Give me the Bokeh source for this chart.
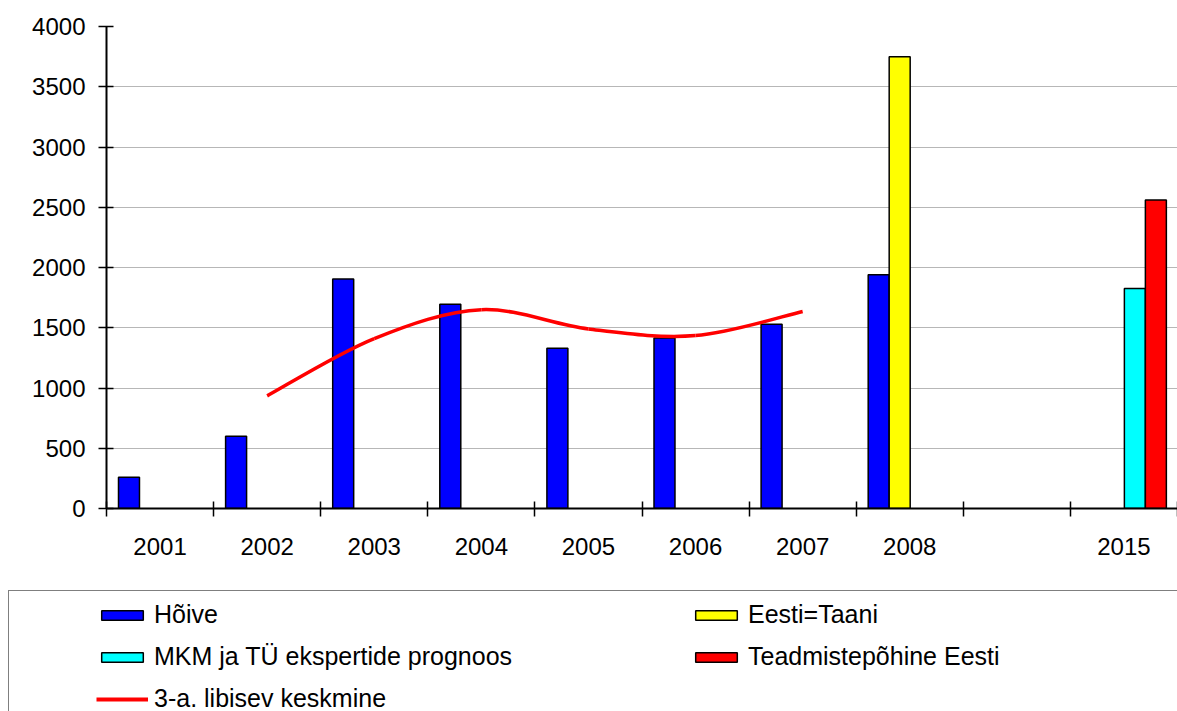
from bokeh.plotting import figure
from bokeh.layouts import column
from bokeh.models import Range1d, FixedTicker, ColumnDataSource, Legend, LegendItem
from bokeh.transform import dodge
from bokeh.embed import file_html
from bokeh.resources import INLINE

# ---- data ----
categories = ["2001", "2002", "2003", "2004", "2005", "2006", "2007", "2008", "", "2015"]
hoive = [260, 600, 1905, 1695, 1330, 1415, 1530, 1940, None, None]
eesti_taani = [None, None, None, None, None, None, None, 3750, None, None]
mkm_tu = [None, None, None, None, None, None, None, None, None, 1825]
teadmistepohine = [None, None, None, None, None, None, None, None, None, 2560]
libisev = [None, 935, 1410, 1650, 1490, 1435, 1635, None, None, None]
y_ticks = [0, 500, 1000, 1500, 2000, 2500, 3000, 3500, 4000]

FONT = "Liberation Sans"
FS = "24px"
LFS = "25px"
BLUE, YELLOW, CYAN, RED = "#0000FF", "#FFFF00", "#00FFFF", "#FF0000"

n = len(categories)
p = figure(width=1177, height=590, output_backend="svg", toolbar_location=None,
           x_range=Range1d(0, n), y_range=Range1d(0, 4000),
           min_border_left=106, min_border_right=0, min_border_top=26, min_border_bottom=82)
p.frame_align = False
p.title.visible = False
p.outline_line_color = None

# grid
p.xgrid.visible = False
p.ygrid.ticker = FixedTicker(ticks=y_ticks)
p.ygrid.grid_line_color = "#6e6e6e"
p.ygrid.grid_line_dash = "1 1"
p.ygrid.grid_line_width = 1

# y axis
ya = p.yaxis[0]
ya.ticker = FixedTicker(ticks=y_ticks)
ya.axis_line_width = 2
ya.major_tick_line_width = 1.5
ya.major_tick_out = 8
ya.major_tick_in = 7
ya.minor_tick_line_color = None
ya.major_label_standoff = 13
ya.major_label_text_font = FONT
ya.major_label_text_font_size = FS
ya.major_label_text_color = "black"

# x axis: labels centred in categories, tick marks on category boundaries
centers = [i + 0.5 for i in range(n)]
xa = p.xaxis[0]
xa.ticker = FixedTicker(ticks=centers, minor_ticks=list(range(n + 1)))
xa.major_label_overrides = {c: (lab if lab else " ") for c, lab in zip(centers, categories)}
xa.axis_line_width = 2
xa.major_tick_line_color = None
xa.major_tick_out = 8
xa.major_tick_in = 0
xa.minor_tick_line_color = "black"
xa.minor_tick_line_width = 1.5
xa.minor_tick_out = 8
xa.minor_tick_in = 7
xa.major_label_standoff = 16
xa.major_label_text_font = FONT
xa.major_label_text_font_size = FS
xa.major_label_text_color = "black"

# bars
BAR_W = 0.196
series = [
    ("Hõive", hoive, BLUE, -0.29),
    ("Eesti=Taani", eesti_taani, YELLOW, -0.094),
    ("MKM ja TÜ ekspertide prognoos", mkm_tu, CYAN, 0.102),
    ("Teadmistepõhine Eesti", teadmistepohine, RED, 0.298),
]
for name, vals, color, off in series:
    xs = [i + 0.5 for i, v in enumerate(vals) if v is not None]
    tops = [v for v in vals if v is not None]
    src = ColumnDataSource(dict(x=xs, top=tops))
    p.vbar(x=dodge("x", off), top="top", bottom=0, width=BAR_W, source=src,
           fill_color=color, line_color="black", line_width=1.5)

# 3-year moving average, drawn as a smoothed curve through its points
pts = [(i + 0.5, v) for i, v in enumerate(libisev) if v is not None]
seg = dict(x0=[], y0=[], x1=[], y1=[], cx0=[], cy0=[], cx1=[], cy1=[])
m = len(pts)
for k in range(m - 1):
    P0 = pts[k - 1] if k > 0 else pts[k]
    P1 = pts[k]
    P2 = pts[k + 1]
    P3 = pts[k + 2] if k + 2 < m else pts[k + 1]
    seg["x0"].append(P1[0]); seg["y0"].append(P1[1])
    seg["x1"].append(P2[0]); seg["y1"].append(P2[1])
    seg["cx0"].append(P1[0] + (P2[0] - P0[0]) / 6); seg["cy0"].append(P1[1] + (P2[1] - P0[1]) / 6)
    seg["cx1"].append(P2[0] - (P3[0] - P1[0]) / 6); seg["cy1"].append(P2[1] - (P3[1] - P1[1]) / 6)
p.bezier(x0="x0", y0="y0", x1="x1", y1="y1", cx0="cx0", cy0="cy0", cx1="cx1", cy1="cy1",
         source=ColumnDataSource(seg), line_color=RED, line_width=3.5)

# ---- legend panel below the chart ----
lg = figure(width=1177, height=121, output_backend="svg", toolbar_location=None,
            x_axis_location=None, y_axis_location=None,
            x_range=Range1d(0, 1), y_range=Range1d(0, 1),
            min_border_left=0, min_border_right=0, min_border_top=0, min_border_bottom=0)
lg.frame_align = False
lg.title.visible = False
lg.outline_line_color = None
lg.grid.visible = False

# swatch renderers for the legend (their single point lies outside the visible range)
r_h = lg.vbar(x=[5], top=[5], bottom=[4], width=0.1, fill_color=BLUE, line_color="black", line_width=1.5)
r_e = lg.vbar(x=[5], top=[5], bottom=[4], width=0.1, fill_color=YELLOW, line_color="black", line_width=1.5)
r_m = lg.vbar(x=[5], top=[5], bottom=[4], width=0.1, fill_color=CYAN, line_color="black", line_width=1.5)
r_t = lg.vbar(x=[5], top=[5], bottom=[4], width=0.1, fill_color=RED, line_color="black", line_width=1.5)
r_l = lg.line(x=[5, 6], y=[5, 5], line_color=RED, line_width=4)
dummy = lg.scatter(x=[5], y=[5], fill_alpha=0, line_alpha=0)

leg_box = Legend(items=[LegendItem(label=" ", renderers=[dummy])],
                 location=(8, -81), padding=0, margin=0,
                 glyph_width=1, glyph_height=1, label_width=1300, label_height=200,
                 border_line_color="black", border_line_width=1.5,
                 background_fill_color="white", background_fill_alpha=1,
                 label_text_font_size="1px")
lg.add_layout(leg_box)

SP = 13
LH = 29
leg = Legend(items=[
    LegendItem(label="Hõive", renderers=[r_h]),
    LegendItem(label="MKM ja TÜ ekspertide prognoos", renderers=[r_m]),
    LegendItem(label="3-a. libisev keskmine", renderers=[r_l]),
    LegendItem(label="Eesti=Taani", renderers=[r_e]),
    LegendItem(label="Teadmistepõhine Eesti", renderers=[r_t]),
], location=(96, -2), orientation="vertical", nrows=3, padding=0, margin=0,
    spacing=SP, glyph_width=52, glyph_height=12, label_standoff=6,
    label_width=594 - 52 - 6 - SP, label_height=LH,
    label_text_font=FONT, label_text_font_size=LFS, label_text_color="black",
    border_line_color=None, background_fill_alpha=0)
lg.add_layout(leg)

layout = column(p, lg, spacing=0)
open("out.html", "w").write(file_html(layout, INLINE))
